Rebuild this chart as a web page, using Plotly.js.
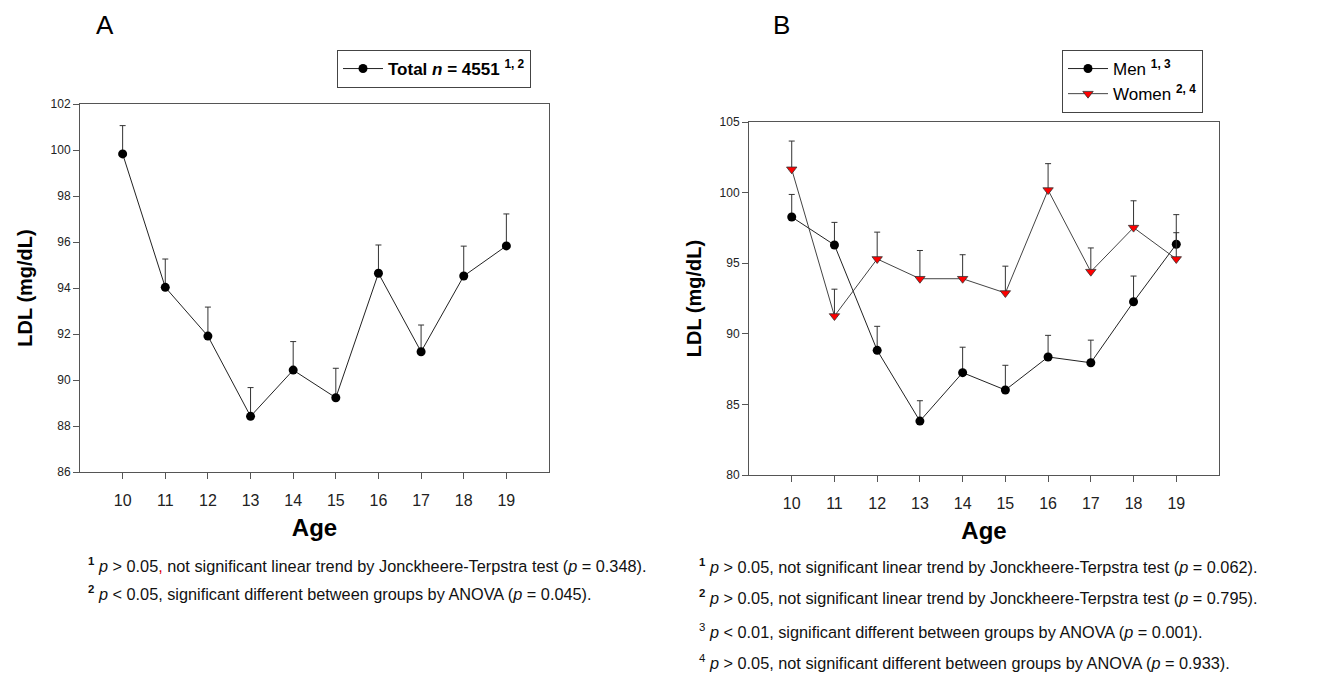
<!DOCTYPE html>
<html>
<head>
<meta charset="utf-8">
<script src="https://cdn.plot.ly/plotly-3.0.1.min.js"></script>
<style>html,body{margin:0;padding:0;background:#fff;}#chart{width:1319px;height:675px;}</style>
</head>
<body>
<div id="chart"></div>
<script>
// ---- data ----
const ages = [10, 11, 12, 13, 14, 15, 16, 17, 18, 19];
const totalMean = [99.83, 94.03, 91.91, 88.42, 90.43, 89.23, 94.64, 91.23, 94.52, 95.83];
const totalErr  = [1.23, 1.23, 1.26, 1.25, 1.24, 1.28, 1.23, 1.16, 1.30, 1.39];
const menMean   = [98.27, 96.29, 88.83, 83.82, 87.25, 86.02, 88.36, 87.95, 92.27, 96.34];
const menErr    = [1.60, 1.60, 1.70, 1.44, 1.80, 1.75, 1.53, 1.60, 1.82, 2.10];
const womenMean = [101.65, 91.26, 95.30, 93.90, 93.90, 92.89, 100.18, 94.40, 97.52, 95.30];
const womenErr  = [2.00, 1.90, 1.90, 2.00, 1.70, 1.90, 1.87, 1.68, 1.90, 1.86];
const zeros = ages.map(() => 0);
const yTicksA = [86, 88, 90, 92, 94, 96, 98, 100, 102];
const yTicksB = [80, 85, 90, 95, 100, 105];

const FONT = 'Liberation Sans, Arial, sans-serif';

function errUp(arr) {
  return {type: 'data', symmetric: false, array: arr, arrayminus: zeros,
          color: '#333', thickness: 1, width: 3};
}

const traces = [
  {x: ages, y: totalMean, error_y: errUp(totalErr), type: 'scatter', mode: 'lines+markers',
   xaxis: 'x', yaxis: 'y', legend: 'legend', showlegend: true,
   name: '<b>Total <i>n</i> = 4551 <sup>1, 2</sup></b>',
   line: {color: '#222', width: 1}, marker: {symbol: 'circle', size: 9, color: '#000'}},
  {x: ages, y: menMean, error_y: errUp(menErr), type: 'scatter', mode: 'lines+markers',
   xaxis: 'x2', yaxis: 'y2', legend: 'legend2', showlegend: true,
   name: 'Men <b><sup>1, 3</sup></b>',
   line: {color: '#222', width: 1}, marker: {symbol: 'circle', size: 9, color: '#000'}},
  {x: ages, y: womenMean, error_y: errUp(womenErr), type: 'scatter', mode: 'lines+markers',
   xaxis: 'x2', yaxis: 'y2', legend: 'legend2', showlegend: true,
   name: 'Women <b><sup>2, 4</sup></b>',
   line: {color: '#444', width: 1},
   marker: {symbol: 'triangle-down', size: 9, color: '#ff0000', line: {color: '#333', width: 0.8}}}
];

function xax(domain, anchor) {
  return {domain: domain, anchor: anchor, range: [9, 20], tickvals: ages, ticktext: ages.map(String),
    showgrid: false, zeroline: false, showline: true, mirror: true, linecolor: '#555', linewidth: 1,
    ticks: 'outside', ticklen: 6, tickcolor: '#555', tickfont: {family: FONT, size: 16, color: '#222'},
    ticklabelstandoff: 8,
    title: {text: '<b>Age</b>', font: {family: FONT, size: 24, color: '#000'}, standoff: 10}};
}
function yax(domain, anchor, range, ticks) {
  return {domain: domain, anchor: anchor, range: range, tickvals: ticks, ticktext: ticks.map(String),
    showgrid: false, zeroline: false, showline: true, mirror: true, linecolor: '#555', linewidth: 1,
    ticks: 'outside', ticklen: 6, tickcolor: '#555', tickfont: {family: FONT, size: 12, color: '#222'},
    title: {text: '<b>LDL (mg/dL)</b>', font: {family: FONT, size: 20, color: '#000'}, standoff: 12}};
}

const fn = (x, y, text) => ({xref: 'paper', yref: 'paper', x: x, y: y, xanchor: 'left', yanchor: 'middle',
  showarrow: false, align: 'left', text: text, font: {family: FONT, size: 16.3, color: '#111'}});

const layout = {
  width: 1319, height: 675, paper_bgcolor: '#fff', plot_bgcolor: '#fff',
  margin: {l: 0, r: 0, t: 0, b: 0},
  font: {family: FONT},
  showlegend: true,
  xaxis: xax([80/1319, 549/1319], 'y'),
  yaxis: yax([1 - 472/675, 1 - 104/675], 'x', [86, 102], yTicksA),
  xaxis2: xax([749/1319, 1219/1319], 'y2'),
  yaxis2: yax([1 - 475/675, 1 - 122/675], 'x2', [80, 105], yTicksB),
  legend: {x: 337/1319, y: 1 - 50/675, xanchor: 'left', yanchor: 'top', bgcolor: '#fff',
    bordercolor: '#444', borderwidth: 1, font: {family: FONT, size: 17, color: '#000'},
    itemwidth: 40},
  legend2: {x: 1062/1319, y: 1 - 50/675, xanchor: 'left', yanchor: 'top', bgcolor: '#fff',
    bordercolor: '#444', borderwidth: 1, font: {family: FONT, size: 17, color: '#000'},
    itemwidth: 40, tracegroupgap: 0},
  annotations: [
    {xref: 'paper', yref: 'paper', x: 105/1319, y: 1 - 25/675, xanchor: 'center', yanchor: 'middle',
     showarrow: false, text: 'A', font: {family: FONT, size: 26, color: '#000'}},
    {xref: 'paper', yref: 'paper', x: 781/1319, y: 1 - 25/675, xanchor: 'center', yanchor: 'middle',
     showarrow: false, text: 'B', font: {family: FONT, size: 26, color: '#000'}},
    fn(86/1319, 1 - 565/675, '<b><sup>1</sup></b> <i>p</i> &gt; 0.05<span style="color:#e00000">,</span> not significant linear trend by Jonckheere-Terpstra test (<i>p</i> = 0.348).'),
    fn(86/1319, 1 - 593/675, '<b><sup>2</sup></b> <i>p</i> &lt; 0.05, significant different between groups by ANOVA (<i>p</i> = 0.045).'),
    fn(697/1319, 1 - 566/675, '<b><sup>1</sup></b> <i>p</i> &gt; 0.05, not significant linear trend by Jonckheere-Terpstra test (<i>p</i> = 0.062).'),
    fn(697/1319, 1 - 597/675, '<b><sup>2</sup></b> <i>p</i> &gt; 0.05, not significant linear trend by Jonckheere-Terpstra test (<i>p</i> = 0.795).'),
    fn(697/1319, 1 - 631/675, '<sup>3</sup> <i>p</i> &lt; 0.01, significant different between groups by ANOVA (<i>p</i> = 0.001).'),
    fn(697/1319, 1 - 662/675, '<sup>4</sup> <i>p</i> &gt; 0.05, not significant different between groups by ANOVA (<i>p</i> = 0.933).')
  ]
};

Plotly.newPlot('chart', traces, layout, {staticPlot: true, displayModeBar: false});
</script>
</body>
</html>
